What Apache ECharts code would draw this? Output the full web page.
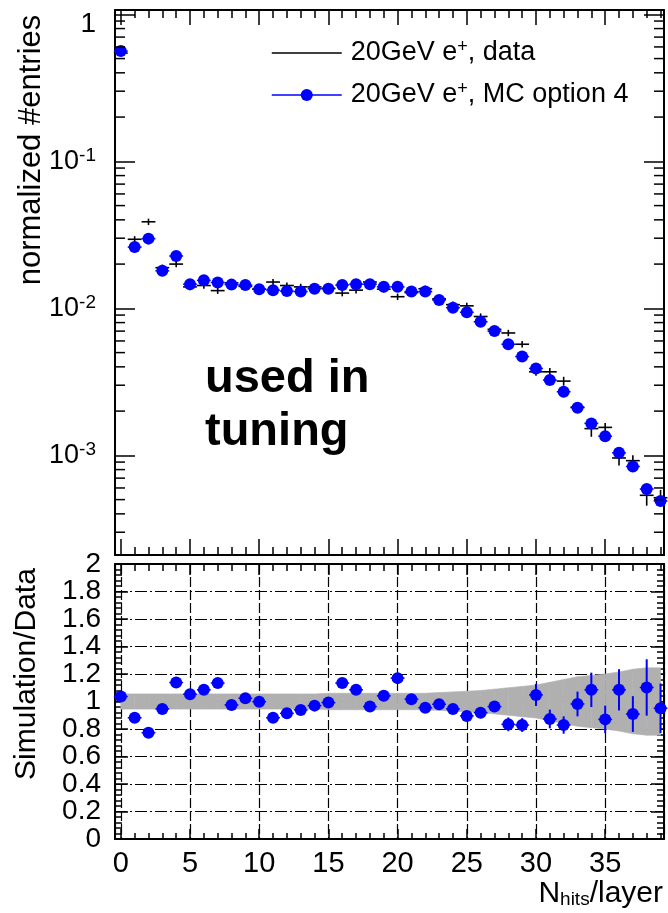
<!DOCTYPE html>
<html><head><meta charset="utf-8">
<script src="https://cdn.jsdelivr.net/npm/echarts@6/dist/echarts.min.js"></script>
<style>html,body{margin:0;padding:0;background:#fff}#c{width:668px;height:913px}</style>
</head><body><div id="c"></div>
<script>
const FONT = '"Liberation Sans", Arial, Helvetica, sans-serif';

// ---- data ----
const bins = [0,1,2,3,4,5,6,7,8,9,10,11,12,13,14,15,16,17,18,19,20,21,22,23,24,25,26,27,28,29,30,31,32,33,34,35,36,37,38,39];
const mcValues = [0.562,0.0261,0.0298,0.0180,0.0227,0.0146,0.0155,0.0150,0.0145,0.0144,0.0135,0.0133,0.0131,0.0130,0.0136,0.0136,0.0144,0.0146,0.0146,0.0140,0.0140,0.0130,0.0130,0.0114,0.0101,0.0094,0.0081,0.0070,0.0057,0.0047,0.0039,0.00325,0.00271,0.00211,0.00165,0.00135,0.00104,0.00084,0.00059,0.00049];
const dataValues = [0.545,0.0295,0.0388,0.0189,0.0200,0.0140,0.0143,0.0132,0.0149,0.0141,0.0135,0.0151,0.0143,0.0140,0.0140,0.0137,0.0127,0.0133,0.0151,0.0135,0.0120,0.0128,0.0136,0.0116,0.0106,0.0104,0.0088,0.0072,0.0068,0.0057,0.0037,0.0037,0.0032,0.00213,0.00152,0.00155,0.00096,0.00092,0.000535,0.000515];
const dataRelErr = [0.05,0.05,0.05,0.05,0.05,0.05,0.05,0.05,0.05,0.05,0.05,0.05,0.05,0.05,0.05,0.05,0.05,0.05,0.05,0.05,0.05,0.05,0.05,0.05,0.05,0.05,0.05,0.05,0.05,0.05,0.06,0.06,0.07,0.08,0.12,0.07,0.11,0.09,0.15,0.13];
const ratioValues = [1.036,0.882,0.773,0.946,1.138,1.053,1.085,1.134,0.975,1.024,0.999,0.882,0.914,0.939,0.970,0.992,1.134,1.085,0.963,1.041,1.170,1.017,0.955,0.980,0.946,0.895,0.919,0.963,0.834,0.829,1.048,0.873,0.829,0.982,1.085,0.870,1.085,0.909,1.102,0.951];
const ratioErr = [0.02,0.02,0.02,0.02,0.02,0.02,0.02,0.02,0.02,0.02,0.025,0.025,0.025,0.025,0.025,0.025,0.025,0.025,0.025,0.025,0.03,0.03,0.03,0.03,0.03,0.03,0.04,0.04,0.05,0.05,0.08,0.068,0.063,0.09,0.125,0.10,0.15,0.13,0.205,0.18];
const bandHalfWidth = [0.055,0.055,0.055,0.055,0.055,0.055,0.055,0.055,0.055,0.055,0.055,0.055,0.055,0.055,0.055,0.06,0.06,0.06,0.06,0.06,0.06,0.06,0.06,0.065,0.07,0.075,0.08,0.09,0.10,0.11,0.12,0.14,0.16,0.18,0.19,0.20,0.215,0.235,0.245,0.245];

const dataName = '20GeV e+, data';
const mcName = '20GeV e+, MC option 4';
const xTitle = ['N', 'hits', '/layer'];
const yTitleTop = 'normalized #entries';
const yTitleBottom = 'Simulation/Data';
const note = 'used in\ntuning';

// axis ranges
const XMIN = -0.42, XMAX = 39.25;
const YLOGMIN = 2.1e-4, YLOGMAX = 1.07;
const logMinorTicks = [];
for (let k = -4; k <= 0; k++) for (let m = 2; m <= 9; m++) {
  const v = m * Math.pow(10, k);
  if (v > YLOGMIN && v < YLOGMAX) logMinorTicks.push(v);
}

const BLACK = '#000';
const BLUE = '#0000ff';
const GREY = '#b0b0b0';

function xAx(grid, pos, major, minor, extra) {
  return Object.assign({
    type: 'value', gridIndex: grid, position: pos, min: XMIN, max: XMAX, splitNumber: 8,
    axisLine: {show: true, onZero: false, lineStyle: {color: BLACK, width: 2}},
    axisTick: {show: true, inside: true, length: major, lineStyle: {color: BLACK, width: 1.5}},
    minorTick: {show: true, splitNumber: 5, length: minor, lineStyle: {color: BLACK, width: 1.5}},
    axisLabel: {show: false},
    splitLine: {show: false}
  }, extra || {});
}
function yLog(pos, extra) {
  return Object.assign({
    type: 'log', logBase: 10, gridIndex: 0, position: pos, min: YLOGMIN, max: YLOGMAX,
    axisLine: {show: true, onZero: false, lineStyle: {color: BLACK, width: 2}},
    axisTick: {show: true, inside: true, length: 20, lineStyle: {color: BLACK, width: 1.5}},
    axisLabel: {show: false},
    splitLine: {show: false}
  }, extra || {});
}
function yRatio(pos, extra) {
  return Object.assign({
    type: 'value', gridIndex: 1, position: pos, min: 0, max: 2, interval: 0.2,
    axisLine: {show: true, onZero: false, lineStyle: {color: BLACK, width: 2}},
    axisTick: {show: true, inside: true, length: 13, lineStyle: {color: BLACK, width: 1.5}},
    minorTick: {show: true, splitNumber: 5, length: 7, lineStyle: {color: BLACK, width: 1.5}},
    axisLabel: {show: false},
    splitLine: {show: false}
  }, extra || {});
}

const option = {
  animation: false,
  backgroundColor: '#fff',
  grid: [
    {left: 115, top: 10, width: 549, height: 545, outerBoundsMode: 'none'},
    {left: 115, top: 564, width: 549, height: 275, outerBoundsMode: 'none'}
  ],
  xAxis: [
    xAx(0, 'bottom', 16, 8),
    xAx(0, 'top', 15, 8),
    xAx(1, 'bottom', 10, 6, {
      axisLabel: {show: true, fontSize: 29, fontFamily: FONT, color: BLACK, margin: 10, showMinLabel: false, showMaxLabel: false},
      splitLine: {show: true, lineStyle: {color: BLACK, width: 1.2, type: [10, 3]}}
    }),
    xAx(1, 'top', 11, 7)
  ],
  yAxis: [
    yLog('left', {
      axisLabel: {
        show: true, margin: 19, showMinLabel: false, showMaxLabel: false, color: BLACK, fontFamily: FONT,
        formatter: function (v) {
          const e = Math.round(Math.log10(v));
          return e === 0 ? '{one|1}' : '{b|10}{s|' + e + '}';
        },
        rich: {
          b: {fontSize: 27, fontFamily: FONT, color: BLACK, lineHeight: 30},
          s: {fontSize: 19, fontFamily: FONT, color: BLACK, lineHeight: 16, verticalAlign: 'top'},
          one: {fontSize: 28, fontFamily: FONT, color: BLACK, lineHeight: 30, padding: [20, 0, 0, 0]}
        }
      }
    }),
    yLog('right'),
    // ratio axis: inner labels 0.2 ... 1.8
    yRatio('left', {
      axisLabel: {show: true, fontSize: 28, fontFamily: FONT, color: BLACK, margin: 14, showMinLabel: false, showMaxLabel: false},
      splitLine: {show: true, lineStyle: {color: BLACK, width: 1.2, type: [12, 3, 2, 3]}}
    }),
    yRatio('right'),
    // ratio axis: end labels 0 and 2
    {
      type: 'value', gridIndex: 1, position: 'left', min: 0, max: 2, interval: 2,
      axisLine: {show: false, onZero: false}, axisTick: {show: false}, splitLine: {show: false},
      axisLabel: {show: true, fontSize: 28, fontFamily: FONT, color: BLACK, margin: 14, showMinLabel: true, showMaxLabel: true}
    }
  ],
  legend: {
    orient: 'vertical', left: 266, top: 33, itemWidth: 70, itemHeight: 15, itemGap: 12,
    selectedMode: false, symbolKeepAspect: false,
    textStyle: {fontSize: 27, fontFamily: FONT, color: BLACK, lineHeight: 30, padding: [0, 0, 0, 4],
      rich: {sup: {fontSize: 18, fontFamily: FONT, color: BLACK, lineHeight: 12, verticalAlign: 'top'}}},
    formatter: function (n) { return n.replace('e+', 'e{sup|+}'); },
    data: [
      {name: dataName, icon: 'path://M0,0H70V0.01H0Z M0,6.75H70V8.25H0Z M0,14.99H70V15H0Z', itemStyle: {color: BLACK}},
      {name: mcName, itemStyle: {color: BLUE}, lineStyle: {color: BLUE, width: 1.5, opacity: 1}}
    ]
  },
  graphic: [
    {type: 'text', x: 31, y: 150, rotation: Math.PI / 2,
      style: {text: yTitleTop, fontSize: 31, fontFamily: FONT, fill: BLACK, align: 'center', verticalAlign: 'middle'}},
    {type: 'text', x: 27, y: 674, rotation: Math.PI / 2,
      style: {text: yTitleBottom, fontSize: 30, fontFamily: FONT, fill: BLACK, align: 'center', verticalAlign: 'middle'}},
    {type: 'text', x: 663, y: 879,
      style: {text: '{n|' + xTitle[0] + '}{sub|' + xTitle[1] + '}{n|' + xTitle[2] + '}', align: 'right', verticalAlign: 'top',
        rich: {n: {fontSize: 30, fontFamily: FONT, fill: BLACK, lineHeight: 30},
               sub: {fontSize: 19, fontFamily: FONT, fill: BLACK, lineHeight: 10, verticalAlign: 'bottom'}}}},
    {type: 'text', x: 205, y: 353,
      style: {text: note, fontSize: 47, fontWeight: 'bold', fontFamily: FONT, fill: BLACK, lineHeight: 53, align: 'left', verticalAlign: 'top'}}
  ],
  series: [
    // log minor ticks on left and right frame of the top panel
    {
      type: 'custom', xAxisIndex: 0, yAxisIndex: 0, silent: true, clip: false, z: 5,
      data: logMinorTicks.map(v => [XMIN, v]),
      renderItem: function (params, api) {
        const y = api.coord([XMIN, api.value(1)])[1];
        const r = params.coordSys;
        return {type: 'group', children: [
          {type: 'line', shape: {x1: r.x, y1: y, x2: r.x + 10, y2: y}, style: {stroke: BLACK, lineWidth: 1.5}},
          {type: 'line', shape: {x1: r.x + r.width - 10, y1: y, x2: r.x + r.width, y2: y}, style: {stroke: BLACK, lineWidth: 1.5}}
        ]};
      }
    },
    // data crosses
    {
      name: dataName, type: 'custom', xAxisIndex: 0, yAxisIndex: 0, z: 3,
      data: bins.map((b, i) => [b, dataValues[i], dataValues[i] * dataRelErr[i]]),
      encode: {x: 0, y: 1},
      renderItem: function (params, api) {
        const x = api.value(0), y = api.value(1), e = api.value(2);
        const l = api.coord([x - 0.5, y]), r = api.coord([x + 0.5, y]);
        const t = api.coord([x, y + e]), b = api.coord([x, y - e]);
        return {type: 'group', children: [
          {type: 'line', shape: {x1: l[0], y1: l[1], x2: r[0], y2: r[1]}, style: {stroke: BLACK, lineWidth: 1.6}},
          {type: 'line', shape: {x1: t[0], y1: t[1], x2: b[0], y2: b[1]}, style: {stroke: BLACK, lineWidth: 1.6}}
        ]};
      }
    },
    // MC horizontal bin bars (top)
    {
      type: 'custom', xAxisIndex: 0, yAxisIndex: 0, z: 2, silent: true,
      data: bins.map((b, i) => [b, mcValues[i]]),
      encode: {x: 0, y: 1},
      renderItem: function (params, api) {
        const x = api.value(0), y = api.value(1);
        const l = api.coord([x - 0.5, y]), r = api.coord([x + 0.5, y]);
        return {type: 'line', shape: {x1: l[0], y1: l[1], x2: r[0], y2: r[1]}, style: {stroke: BLUE, lineWidth: 1.5}};
      }
    },
    // MC points (top)
    {
      name: mcName, type: 'line', xAxisIndex: 0, yAxisIndex: 0, z: 4,
      data: bins.map((b, i) => [b, mcValues[i]]),
      symbol: 'circle', symbolSize: 12, showSymbol: true,
      itemStyle: {color: BLUE}, lineStyle: {color: BLUE, opacity: 0, width: 0},
      emphasis: {disabled: true}
    },
    // data uncertainty band (bottom)
    {
      type: 'custom', xAxisIndex: 2, yAxisIndex: 2, silent: true, z: 2,
      data: bins.map((b, i) => [b, 1, bandHalfWidth[i]]),
      encode: {x: 0, y: 1},
      renderItem: function (params, api) {
        const i = params.dataIndex;
        if (i >= bins.length - 1) return null;
        const x0 = api.value(0), w0 = api.value(2);
        const x1 = bins[i + 1], w1 = bandHalfWidth[i + 1];
        const pts = [api.coord([x0, 1 + w0]), api.coord([x1, 1 + w1]), api.coord([x1, 1 - w1]), api.coord([x0, 1 - w0])];
        return {type: 'polygon', shape: {points: pts}, style: {fill: GREY, stroke: GREY, lineWidth: 0.6}};
      }
    },
    // ratio error bars
    {
      type: 'custom', xAxisIndex: 2, yAxisIndex: 2, z: 3, silent: true,
      data: bins.map((b, i) => [b, ratioValues[i], ratioErr[i]]),
      encode: {x: 0, y: 1},
      renderItem: function (params, api) {
        const x = api.value(0), y = api.value(1), e = api.value(2);
        const l = api.coord([x - 0.5, y]), r = api.coord([x + 0.5, y]);
        const t = api.coord([x, y + e]), b = api.coord([x, y - e]);
        return {type: 'group', children: [
          {type: 'line', shape: {x1: l[0], y1: l[1], x2: r[0], y2: r[1]}, style: {stroke: BLUE, lineWidth: 1.5}},
          {type: 'line', shape: {x1: t[0], y1: t[1], x2: b[0], y2: b[1]}, style: {stroke: BLUE, lineWidth: 2}}
        ]};
      }
    },
    // ratio points
    {
      type: 'scatter', xAxisIndex: 2, yAxisIndex: 2, z: 4, silent: true,
      data: bins.map((b, i) => [b, ratioValues[i]]),
      symbol: 'circle', symbolSize: 12, itemStyle: {color: BLUE, opacity: 1}
    }
  ]
};

const chart = echarts.init(document.getElementById('c'));
chart.setOption(option);
</script>
</body></html>
